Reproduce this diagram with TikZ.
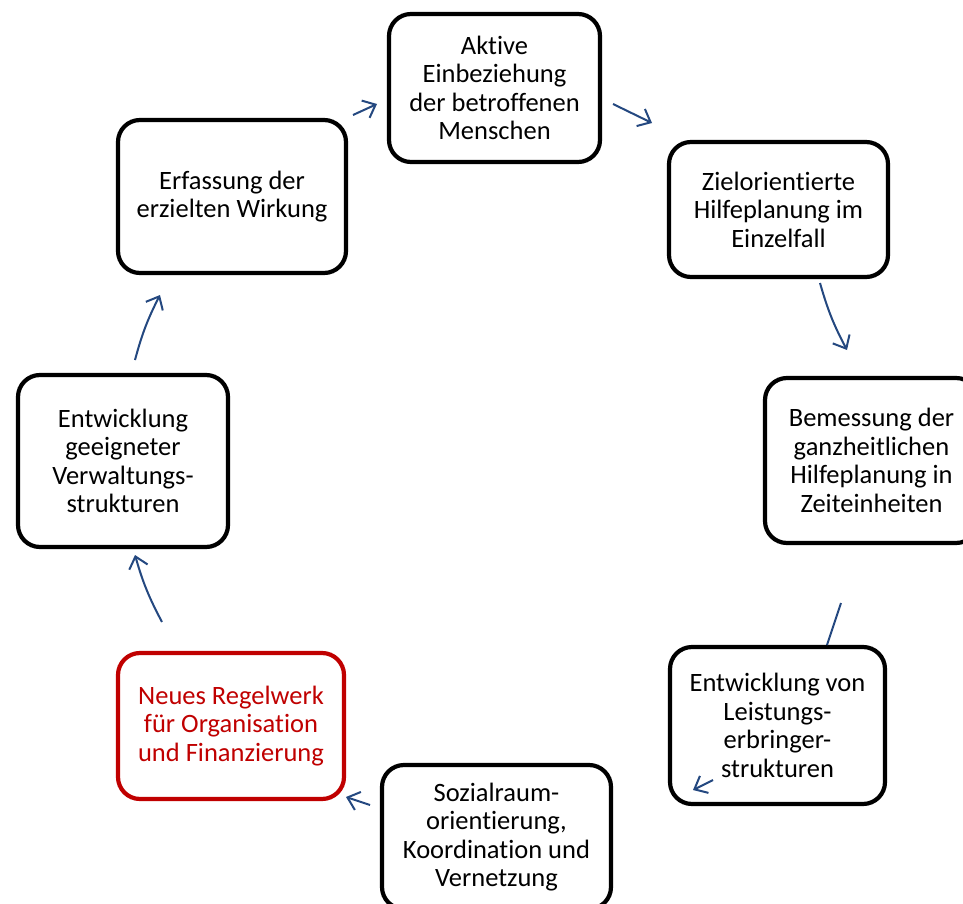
\documentclass[tikz,border=0pt]{standalone}
\usepackage{fontspec}
\setmainfont{Carlito}[RawFeature={-liga;-clig}]
\usetikzlibrary{arrows.meta}
\definecolor{arrowblue}{RGB}{36,72,128}
\definecolor{regelred}{RGB}{192,0,0}
\tikzset{
  stepbox/.style={draw=black, line width=4.2pt, rounded corners=22pt, fill=white,
    align=center, inner sep=0pt, font=\fontsize{26.5pt}{28.5pt}\selectfont, text=black},
  redbox/.style={stepbox, draw=regelred, text=regelred},
  flow/.style={draw=arrowblue, line width=2pt, -{Straight Barb[length=11pt,width=19pt]}},
  flowplain/.style={draw=arrowblue, line width=2pt},
}
\begin{document}
\begin{tikzpicture}[x=1pt,y=-1pt]
\clip (0,0) rectangle (963,904);
\fill[white] (0,0) rectangle (963,904);

\node[stepbox, minimum width=211pt, minimum height=148pt] (akt) at (494.5,88)
  {Aktive\\Einbeziehung\\der betroffenen\\Menschen};
\node[stepbox, minimum width=219pt, minimum height=135pt] (ziel) at (778.5,209.5)
  {Zielorientierte\\Hilfeplanung im\\Einzelfall};
\node[stepbox, minimum width=213pt, minimum height=165pt] (bem) at (871.5,460.5)
  {Bemessung der\\ganzheitlichen\\Hilfeplanung in\\Zeiteinheiten};
\node[stepbox, minimum width=215pt, minimum height=157pt] (leist) at (777.5,725.5)
  {Entwicklung von\\Leistungs-\\erbringer-\\strukturen};
\node[stepbox, minimum width=229pt, minimum height=144pt] (sozial) at (496.5,837)
  {Sozialraum-\\orientierung,\\Koordination und\\Vernetzung};
\node[redbox, minimum width=226pt, minimum height=146pt] (regel) at (231,726)
  {Neues Regelwerk\\für Organisation\\und Finanzierung};
\node[stepbox, minimum width=210pt, minimum height=172pt] (verw) at (123,461)
  {Entwicklung\\geeigneter\\Verwaltungs-\\strukturen};
\node[stepbox, minimum width=228pt, minimum height=153pt] (erf) at (232,196.5)
  {Erfassung der\\erzielten Wirkung};

\coordinate (a1s) at (353,115);  \coordinate (a1e) at (377,104);
\coordinate (a2s) at (613,104);  \coordinate (a2e) at (652,123);
\coordinate (a3s) at (820,283);  \coordinate (a3e) at (847,350);
\coordinate (a4s) at (841,603);  \coordinate (a4e) at (827,645);
\coordinate (a5s) at (713,780);  \coordinate (a5e) at (693,790);
\coordinate (a6s) at (370,805);  \coordinate (a6e) at (346,797);
\coordinate (a7s) at (162,622);  \coordinate (a7e) at (135,555);
\coordinate (a8s) at (135,360);  \coordinate (a8e) at (160,295);

\draw[flow] (a1s) -- (a1e);
\draw[flow] (a2s) -- (a2e);
\draw[flow] (a3s) to[bend right=6] (a3e);
\draw[flowplain] (a4s) -- (a4e);
\draw[flow] (a5s) -- (a5e);
\draw[flow] (a6s) -- (a6e);
\draw[flow] (a7s) to[bend left=6] (a7e);
\draw[flow] (a8s) to[bend left=6] (a8e);
\end{tikzpicture}
\end{document}
